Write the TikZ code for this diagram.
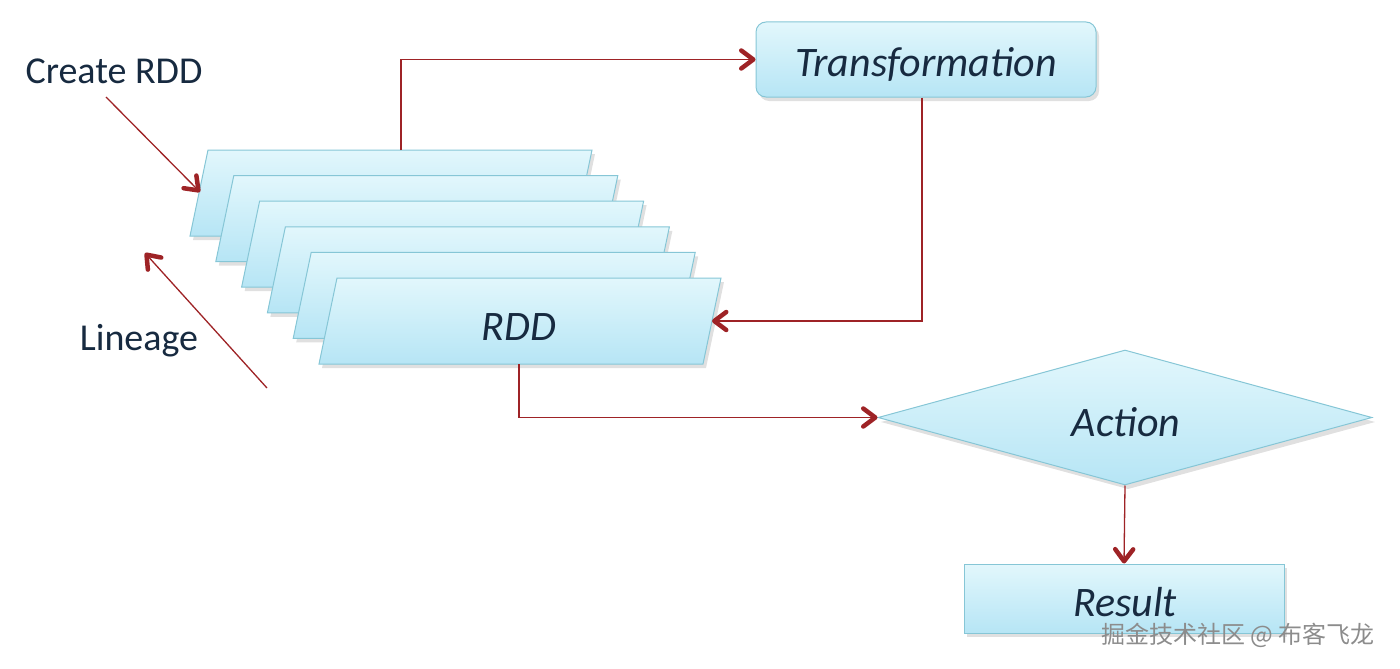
\documentclass[tikz,border=0pt]{standalone}
\usepackage{fontspec}
\setmainfont{Carlito}
\newfontfamily\cjk{Noto Sans CJK SC}
\usetikzlibrary{arrows.meta,shapes.geometric}
\definecolor{txt}{HTML}{172A40}
\definecolor{arr}{HTML}{9E2326}
\definecolor{bord}{HTML}{86C6D6}
\definecolor{ftop}{HTML}{E2F7FC}
\definecolor{fbot}{HTML}{B6E5F5}
\tikzset{
  x=1pt,y=-1pt,
  boxfill/.style={top color=ftop,bottom color=fbot,draw=bord,line width=1pt},
  shadowfill/.style={fill=black!35,opacity=0.35},
  conn/.style={draw=arr,line width=1.3pt,-{Straight Barb[length=12pt,width=18pt,line width=4.5pt,round]}},
  lbl/.style={text=txt,font=\fontsize{38}{40}\selectfont,inner sep=0pt},
  ilbl/.style={text=txt,font=\fontsize{42}{44}\selectfont\itshape,inner sep=0pt},
}
\begin{document}
\begin{tikzpicture}
\useasboundingbox (0,0) rectangle (1400,669);
% stacked RDD parallelograms
\foreach \i in {0,...,5}{
  \pgfmathsetmacro{\dx}{25.8*\i}
  \pgfmathsetmacro{\dy}{25.6*\i}
  \path[shadowfill] (208+\dx+3,150+\dy+4) -- (592+\dx+3,150+\dy+4) -- (574+\dx+3,236+\dy+4) -- (190+\dx+3,236+\dy+4) -- cycle;
  \path[boxfill] (208+\dx,150+\dy) -- (592+\dx,150+\dy) -- (574+\dx,236+\dy) -- (190+\dx,236+\dy) -- cycle;
}
\coordinate (rddtop) at (401,150);
\coordinate (rddright) at (712,321);
\coordinate (rddbottom) at (519,364);
\node[ilbl] (rdd) at (519,327) {RDD};
% Transformation
\path[shadowfill,rounded corners=10pt] (759,26) rectangle (1099,101);
\node[boxfill,rounded corners=10pt,minimum width=340pt,minimum height=75pt,inner sep=0pt] (trans) at (926,59.5) {};
\node[ilbl] at (926,64) {Transformation};
% Action
\path[shadowfill] (881,422) -- (1128,354) -- (1375,422) -- (1128,489) -- cycle;
\node[boxfill,diamond,minimum width=494pt,minimum height=135pt,inner sep=0pt,aspect=3.66] (act) at (1125,417.5) {};
\node[ilbl] at (1126,422) {Action};
% Result
\path[shadowfill] (967,568) rectangle (1287,637);
\node[boxfill,minimum width=320pt,minimum height=69pt,inner sep=0pt] (res) at (1124,598.5) {};
\node[ilbl] at (1125,602) {Result};
% labels
\node[lbl] (create) at (114,71) {Create RDD};
\node[lbl] (lin) at (139,341) {Lineage};
\coordinate (cstart) at (106,97);
\coordinate (cend) at (200,192);
\coordinate (lstart) at (267,388);
\coordinate (lend) at (145,253);
% connectors
\draw[conn] (rddtop) |- (trans.west);
\draw[conn] (trans.south -| 922,0) |- (rddright);
\draw[conn] (rddbottom) |- (act.west);
\draw[conn] (act.south) -- (res.north);
\draw[conn] (cstart) -- (cend);
\draw[conn] (lstart) -- (lend);
% watermark
\node[text=black!45,font=\cjk\fontsize{24}{26}\selectfont,inner sep=0pt] (wm) at (1238,635) {掘金技术社区 @ 布客飞龙};
\end{tikzpicture}
\end{document}
